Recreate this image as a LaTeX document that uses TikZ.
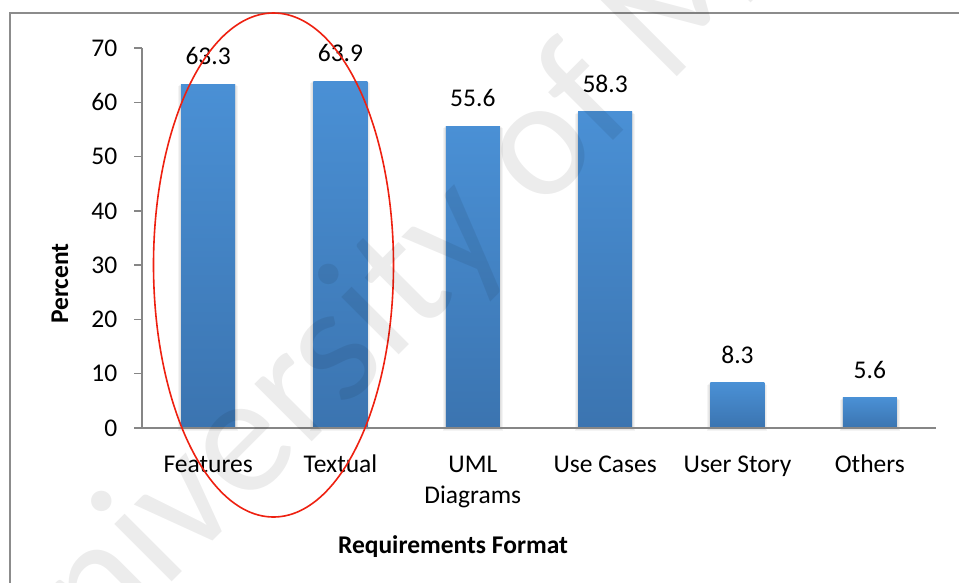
\documentclass[tikz,border=0pt]{standalone}
\usepackage{fontspec}
\setmainfont{Carlito}
\definecolor{framegray}{RGB}{140,140,140}
\definecolor{axisgray}{RGB}{134,134,134}
\definecolor{bartop}{RGB}{74,144,213}
\definecolor{barbot}{RGB}{59,116,176}
\definecolor{ringred}{RGB}{238,32,16}
\begin{document}
\begin{tikzpicture}[x=1pt,y=-1pt,
  axisline/.style={axisgray,line width=1.5pt},
  ticklabel/.style={anchor=east,inner sep=0pt,font=\fontsize{25.5}{31}\selectfont},
  vallabel/.style={anchor=base,inner sep=0pt,font=\fontsize{25.5}{31}\selectfont},
  catlabel/.style={anchor=base,inner sep=0pt,font=\fontsize{25.5}{31}\selectfont},
  axistitle/.style={anchor=base,inner sep=0pt,font=\fontsize{25.5}{31}\selectfont\bfseries},
  watermark/.style={anchor=base west,inner sep=0pt,rotate=45,text=black,text opacity=0.075,
    font=\fontsize{170}{170}\selectfont},
  ring/.style={ringred,line width=1.6pt}]
\useasboundingbox (0,0) rectangle (959,582);
\fill[white] (0,0) rectangle (959,582);
% chart frame (continues past the right and bottom edges)
\draw[framegray,line width=1.5pt] (10,13) rectangle (1000,620);

% bars with value and category labels
\foreach \i/\v/\lab in {0/63.3/Features,1/63.9/Textual,2/55.6/UML,3/58.3/Use Cases,4/8.3/User Story,5/5.6/Others}{
  \pgfmathsetmacro\cx{142+132.33*(\i+0.5)}
  \pgfmathsetmacro\bt{428-5.4286*\v}
  \foreach \s in {1,2,3}{
    \fill[black,opacity=0.045] (\cx-27-\s,\bt+\s-1) rectangle (\cx+27+\s,428+\s);
  }
  \shade[top color=bartop,bottom color=barbot] (\cx-27,\bt) rectangle (\cx+27,428);
  \node[vallabel] (v\i) at (\cx,\bt-19.5) {\v};
  \node[catlabel] (c\i) at (\cx,472) {\lab};
}
\node[catlabel] (c2b) at (472.8,503) {Diagrams};

% axes, ticks and tick labels
\draw[axisline] (142,48) -- (142,428) -- (936,428);
\foreach \k in {0,...,7}{
  \pgfmathsetmacro\ty{428-54.286*\k}
  \pgfmathtruncatemacro\tv{10*\k}
  \draw[axisline] (134,\ty) -- (142,\ty);
  \node[ticklabel] (t\k) at (117.5,\ty) {\tv};
}

% axis titles
\node[axistitle,rotate=90] (ytitle) at (68,283.5) {Percent};
\node[axistitle] (xtitle) at (453,553) {Requirements Format};

% highlight ring round the first two categories
\draw[ring] (273.5,265) ellipse [x radius=120pt,y radius=252pt];

% repository watermark
\node[watermark] (wm) at (23,731) {University of Malaya};
\end{tikzpicture}
\end{document}
